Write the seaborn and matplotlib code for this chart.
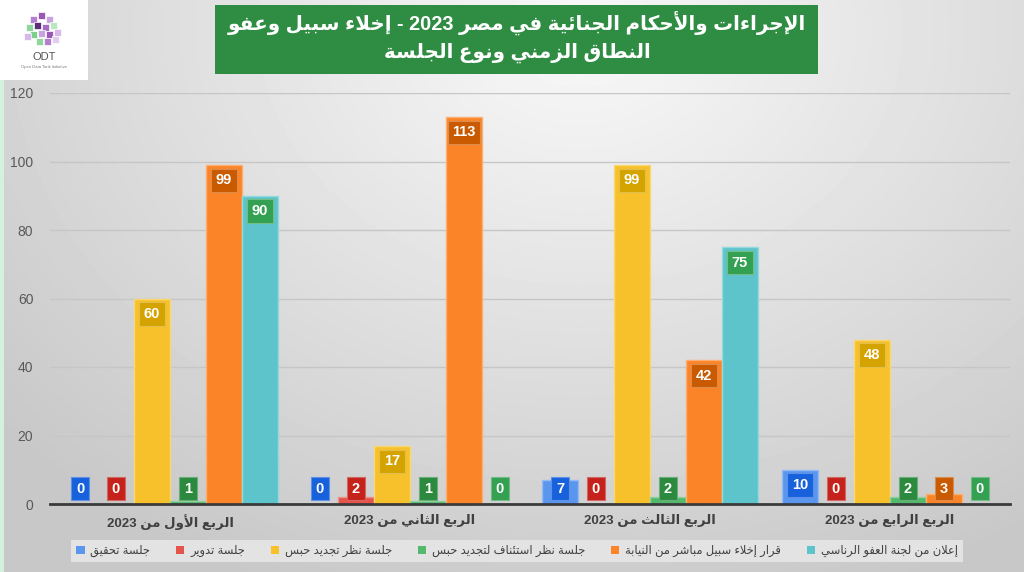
import re
import numpy as np
import pandas as pd
import matplotlib
matplotlib.use("Agg")
import matplotlib.pyplot as plt
import seaborn as sns
from matplotlib.patches import Rectangle

# ---- data ----
quarters = ["الربع الأول من 2023", "الربع الثاني من 2023",
            "الربع الثالث من 2023", "الربع الرابع من 2023"]
series = ["جلسة تحقيق", "جلسة تدوير", "جلسة نظر تجديد حبس",
          "جلسة نظر استئناف لتجديد حبس", "قرار إخلاء سبيل مباشر من النيابة",
          "إعلان من لجنة العفو الرناسي"]
vals_tahqiq = [0, 0, 7, 10]
vals_tadweer = [0, 2, 0, 0]
vals_tajdeed = [60, 17, 99, 48]
vals_istinaf = [1, 1, 2, 2]
vals_ikhlaa = [99, 113, 42, 3]
vals_afw = [90, 0, 75, 0]
title_lines = ["الإجراءات والأحكام الجنائية في مصر 2023 - إخلاء سبيل وعفو",
               "النطاق الزمني ونوع الجلسة"]
yticks = [0, 20, 40, 60, 80, 100, 120]

bar_colors = ["#5b96ee", "#e5544b", "#f7c12b", "#52b96d", "#fb8428", "#5ec4cb"]
label_colors = ["#1762dc", "#c4221b", "#d4a300", "#2b8a3e", "#c95a00", "#33a052"]


# ---- simple arabic shaping (matplotlib has no complex text layout) ----
_counts = [1, 2, 2, 2, 2, 4, 2, 4, 2, 4, 4, 4, 4, 4, 2, 2, 2, 2, 4, 4, 4, 4, 4, 4, 4, 4,
           4, 4, 4, 4, 4, 4, 4, 2, 2, 4]
_letters = [chr(c) for c in list(range(0x621, 0x63B)) + list(range(0x641, 0x64B))]
FORMS = {}
_pos = 0xFE80
for _ch, _n in zip(_letters, _counts):
    FORMS[_ch] = [chr(_pos + k) for k in range(_n)]
    _pos += _n
LAM_ALEF = {"آ": 0xFEF5, "أ": 0xFEF7, "إ": 0xFEF9, "ا": 0xFEFB}


def _dual(u):
    return u[0] == "C" and u[1] in FORMS and len(FORMS[u[1]]) == 4


def _can_join_back(u):
    return u[0] == "LA" or (u[1] in FORMS and len(FORMS[u[1]]) > 1)


def ar(text):
    chars = list(text)
    units, i = [], 0
    while i < len(chars):
        if chars[i] == "ل" and i + 1 < len(chars) and chars[i + 1] in LAM_ALEF:
            units.append(("LA", chars[i + 1]))
            i += 2
        else:
            units.append(("C", chars[i]))
            i += 1
    out = []
    for k, (kind, c) in enumerate(units):
        prev = units[k - 1] if k > 0 else None
        nxt = units[k + 1] if k + 1 < len(units) else None
        jp = prev is not None and _dual(prev)
        if kind == "LA":
            out.append(chr(LAM_ALEF[c] + (1 if jp else 0)))
            continue
        if c not in FORMS:
            out.append(c)
            continue
        f = FORMS[c]
        if len(f) == 1:
            out.append(f[0])
            continue
        jn = len(f) == 4 and nxt is not None and _can_join_back(nxt)
        if jp and jn:
            out.append(f[3])
        elif jp:
            out.append(f[1])
        elif jn:
            out.append(f[2])
        else:
            out.append(f[0])
    s = "".join(out)[::-1]
    return re.sub(r"[0-9]+", lambda m: m.group(0)[::-1], s)


def lighten(c, amt):
    rgb = np.array(matplotlib.colors.to_rgb(c))
    return tuple(rgb + (1 - rgb) * amt)


# ---- figure ----
sns.set_theme(style="white")
plt.rcParams["font.family"] = ["Liberation Sans", "DejaVu Sans"]

W, H = 1024, 572
fig = plt.figure(figsize=(W / 100, H / 100), dpi=100)

# gradient background
bg = fig.add_axes([0, 0, 1, 1], zorder=-10)
yy, xx = np.mgrid[0:H, 0:W]
d = np.sqrt(((xx - 580) / 760.0) ** 2 + ((yy - 30) / 600.0) ** 2)
shade = 0.975 - 0.19 * np.clip(d, 0, 1)
bg.imshow(shade, cmap="gray", vmin=0, vmax=1, extent=[0, 1, 0, 1],
          aspect="auto", origin="upper")
bg.set_xlim(0, 1)
bg.set_ylim(0, 1)
bg.axis("off")
bg.add_patch(Rectangle((0, 0), 4 / W, 1 - 80 / H, fc="#d3f1dd", ec="none"))

# logo
bg.add_patch(Rectangle((0, 1 - 80 / H), 88 / W, 80 / H, fc="white", ec="none"))
cubes = [(30, 16, "#b37fd0"), (38, 12, "#9b59b6"), (46, 16, "#c9a3e0"),
         (26, 24, "#8fd79a"), (34, 22, "#5d2e7a"), (42, 24, "#a66cc4"),
         (50, 22, "#b8e8bf"), (30, 31, "#7ccf88"), (38, 30, "#c9a3e0"),
         (46, 31, "#9b59b6"), (54, 29, "#d6b8ea"), (36, 38, "#8fd79a"),
         (44, 38, "#b37fd0"), (52, 36, "#e0cdf0"), (24, 33, "#d6b8ea")]
for cx, cy, cc in cubes:
    bg.add_patch(Rectangle((cx / W, 1 - (cy + 7) / H), 7 / W, 7 / H, fc=cc, ec="white", lw=0.5))
fig.text(44 / W, 1 - 57 / H, "ODT", ha="center", va="center", fontsize=8, color="#555555")
fig.text(44 / W, 1 - 67 / H, "Open Data Tank Initiative", ha="center", va="center",
         fontsize=3, color="#777777")

# title box
bg.add_patch(Rectangle((215 / W, 1 - 74 / H), 603 / W, 69 / H, fc="#2e8c43", ec="none"))
fig.text(517 / W, 1 - 23 / H, ar(title_lines[0]), ha="center", va="center",
         color="white", fontsize=14.3, fontweight="bold")
fig.text(517 / W, 1 - 53 / H, ar(title_lines[1]), ha="center", va="center",
         color="white", fontsize=14.3, fontweight="bold")

# main chart
ax = fig.add_axes([50 / W, 1 - 504 / H, 960 / W, (504 - 93) / H])
ax.patch.set_alpha(0)

values = [vals_tahqiq, vals_tadweer, vals_tajdeed, vals_istinaf, vals_ikhlaa, vals_afw]
rows = [(q, s, v[i]) for s, v in zip(series, values) for i, q in enumerate(quarters)]
df = pd.DataFrame(rows, columns=["quarter", "series", "value"])

sns.barplot(df, x="quarter", y="value", hue="series", order=quarters, hue_order=series,
            palette=bar_colors, width=0.9, saturation=1, linewidth=1, legend=False, ax=ax)

for j, (cont, vals) in enumerate(zip(ax.containers, values)):
    for bar, v in zip(cont, vals):
        bar.set_edgecolor(lighten(bar_colors[j], 0.35))
        x = bar.get_x() + bar.get_width() / 2
        y = max(v, 9.0) - 4.5
        ax.text(x, y, str(v), ha="center", va="center", color="white",
                fontsize=10.5, fontweight="bold",
                bbox=dict(boxstyle="square,pad=0.32", fc=label_colors[j],
                          ec=lighten(label_colors[j], 0.3), lw=0.8))

ax.set_ylim(0, 120)
ax.set_xlim(-0.5, 3.5)
ax.set_yticks(yticks)
ax.yaxis.grid(True, color="#c6c6c6", lw=1)
ax.set_axisbelow(True)
for side in ["left", "right", "top"]:
    ax.spines[side].set_visible(False)
ax.spines["bottom"].set_color("#3a3a3a")
ax.spines["bottom"].set_linewidth(2)
ax.set_xlabel("")
ax.set_ylabel("")
ax.tick_params(axis="y", length=0, labelsize=10, labelcolor="#595959", pad=12)
ax.tick_params(axis="x", length=0, pad=7)
ax.set_xticks(range(len(quarters)))
ax.set_xticklabels([ar(q) for q in quarters], fontsize=9.5, fontweight="bold", color="#404040")

handles = [Rectangle((0, 0), 1, 1, fc=c, ec="none") for c in bar_colors]
leg = fig.legend(handles, [ar(s) for s in series], ncol=6, loc="center",
                 bbox_to_anchor=(517 / W, 1 - 551 / H), frameon=True, fancybox=False,
                 facecolor="#e3e3e3", edgecolor="none", framealpha=1, fontsize=8.3,
                 handlelength=0.7, handleheight=0.7, handletextpad=0.5,
                 columnspacing=2.25, borderpad=0.45)
for t in leg.get_texts():
    t.set_color("#404040")

fig.savefig("out.png", dpi=100)
